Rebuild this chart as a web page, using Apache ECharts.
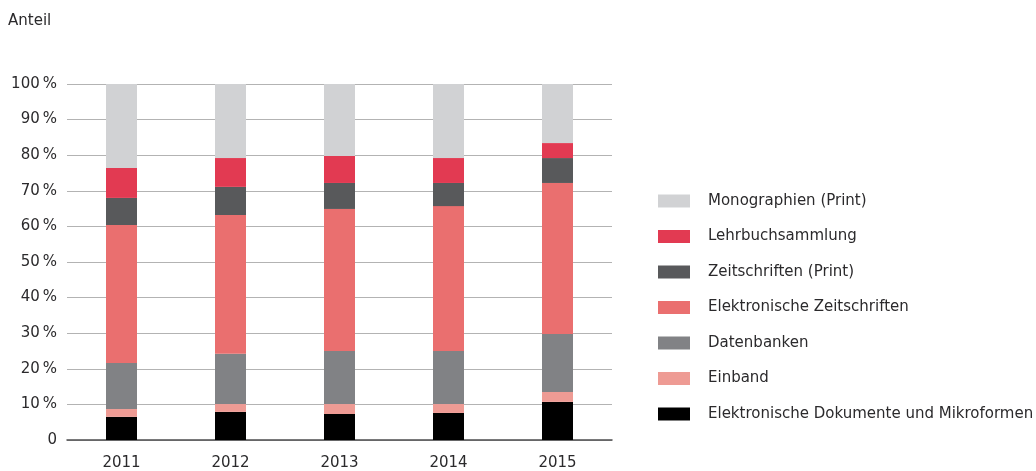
<!DOCTYPE html>
<html>
<head>
<meta charset="utf-8">
<script src="https://cdn.jsdelivr.net/npm/echarts@6/dist/echarts.min.js"></script>
<style>
  html, body { margin: 0; padding: 0; background: #fff; }
  #chart { width: 1036px; height: 471px; }
</style>
</head>
<body>
<div id="chart"></div>
<script>
var years = ['2011', '2012', '2013', '2014', '2015'];

// Anteil in %, von unten nach oben gestapelt
var dokumente = [6.5, 7.9, 7.3, 7.6, 10.7];
var einband = [2.2, 2.2, 2.8, 2.5, 2.8];
var datenbanken = [12.9, 14.1, 14.9, 14.9, 16.3];
var eZeitschriften = [38.8, 39.0, 39.9, 40.7, 42.4];
var zeitschriftenPrint = [7.6, 7.9, 7.3, 6.5, 7.0];
var lehrbuch = [8.4, 8.1, 7.6, 7.0, 4.2];
var monographien = [23.6, 20.8, 20.2, 20.8, 16.6];

var names = [
  'Elektronische Dokumente und Mikroformen',
  'Einband',
  'Datenbanken',
  'Elektronische Zeitschriften',
  'Zeitschriften (Print)',
  'Lehrbuchsammlung',
  'Monographien (Print)'
];
var colors = ['#000000', '#ee9b94', '#818285', '#ea6f6f', '#58595b', '#e23a52', '#d1d2d4'];
var values = [dokumente, einband, datenbanken, eZeitschriften, zeitschriftenPrint, lehrbuch, monographien];

var font = 'DejaVu Sans';
var textColor = '#2b2a2c';
var series = [];
for (var i = 0; i < names.length; i++) {
  series.push({
    name: names[i],
    type: 'bar',
    stack: 'anteil',
    barWidth: 31,
    itemStyle: { color: colors[i] },
    data: values[i]
  });
}

var chart = echarts.init(document.getElementById('chart'));
chart.setOption({
  animation: false,
  textStyle: { fontFamily: font },
  title: {
    text: 'Anteil',
    left: 8,
    top: 14,
    padding: 0,
    textStyle: { fontFamily: font, fontSize: 15, fontWeight: 'normal', color: textColor }
  },
  legend: {
    orient: 'vertical',
    left: 658,
    top: 193,
    padding: 0,
    itemWidth: 32,
    itemHeight: 13,
    itemGap: 19.5,
    icon: 'rect',
    data: names.slice().reverse(),
    textStyle: {
      fontFamily: font,
      fontSize: 15,
      color: textColor,
      lineHeight: 16,
      padding: [0, 0, 0, 13]
    }
  },
  grid: {
    left: 67,
    right: 1036 - 612,
    top: 84,
    bottom: 471 - 440,
    containLabel: false
  },
  xAxis: {
    type: 'category',
    data: years,
    axisLine: { lineStyle: { color: '#4d4d4f', width: 1.5 } },
    axisTick: { alignWithLabel: true, length: 6, lineStyle: { color: '#4d4d4f' } },
    axisLabel: { fontFamily: font, fontSize: 15, color: textColor, margin: 16 }
  },
  yAxis: {
    type: 'value',
    min: 0,
    max: 100,
    interval: 10,
    axisLine: { show: false },
    axisTick: { show: false },
    splitLine: { lineStyle: { color: '#b3b3b3', width: 1 } },
    axisLabel: {
      fontFamily: font,
      fontSize: 15,
      color: textColor,
      margin: 10,
      padding: [2, 0, 0, 0],
      formatter: function (v) { return v === 0 ? '0' : v + '\u2009%'; }
    }
  },
  series: series
});
</script>
</body>
</html>
